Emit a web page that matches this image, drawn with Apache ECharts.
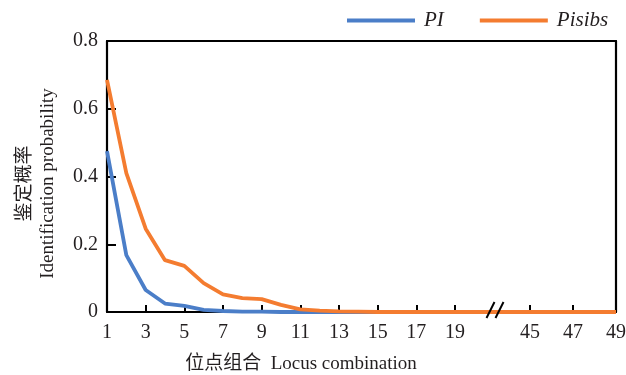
<!DOCTYPE html>
<html>
<head>
<meta charset="utf-8">
<script src="https://cdn.jsdelivr.net/npm/echarts@6/dist/echarts.min.js"></script>
<style>
html,body{margin:0;padding:0;background:#fff;}
#chart{width:626px;height:375px;}
</style>
</head>
<body>
<div id="chart"></div>
<script>
// Locus combination (x) values
const loci = [1,2,3,4,5,6,7,8,9,10,11,12,13,14,15,16,17,18,19,20,21,22,23,24,25,26,27,28,29,30,31,32,33,34,35,36,37,38,39,40,41,42,43,44,45,46,47,48,49];
// PI identification probability
const piValues = [0.475,0.168,0.065,0.025,0.018,0.006,0.003,0.001,0.001,0,0,0,0,0,0,0,0,0,0,0,0,0,0,0,0,0,0,0,0,0,0,0,0,0,0,0,0,0,0,0,0,0,0,0,0,0,0,0,0];
// Pisibs identification probability
const pisibsValues = [0.685,0.41,0.246,0.153,0.136,0.085,0.052,0.041,0.038,0.021,0.008,0.004,0.002,0.001,0,0,0,0,0,0,0,0,0,0,0,0,0,0,0,0,0,0,0,0,0,0,0,0,0,0,0,0,0,0,0,0,0,0,0];
// Tick labels
const leftTicks = [1,3,5,7,9,11,13,15,17,19];
const rightTicks = [45,47,49];
const yTicks = [0,0.2,0.4,0.6,0.8];
const seriesNames = ['PI','Pisibs'];

const FONT = "'Liberation Serif','Noto Sans CJK SC',serif";
const TXT = '#231f20';
const BLUE = '#4b7ec8';
const ORANGE = '#f47c30';

const piData = loci.map((x,i)=>[x, piValues[i]]);
const pisibsData = loci.map((x,i)=>[x, pisibsValues[i]]);

const chart = echarts.init(document.getElementById('chart'), null, {renderer:'canvas'});

const axisLineStyle = {show:true, onZero:false, lineStyle:{color:'#000', width:2.2}};
const lineSeries = (name, data, color, xi, yi, z) => ({
  name, type:'line', data, xAxisIndex:xi, yAxisIndex:yi,
  showSymbol:false, symbol:'none', smooth:false, clip:true, z,
  lineStyle:{color, width:3.8}, itemStyle:{color}, animation:false
});

chart.setOption({
  animation:false,
  backgroundColor:'#fff',
  legend:{
    data:seriesNames, left:347, top:10, padding:0, icon:'rect', itemWidth:68, itemHeight:4, itemGap:36,
    textStyle:{fontFamily:FONT, fontSize:21, fontStyle:'italic', color:TXT, padding:[0,0,0,4]}
  },
  grid:[
    {left:107, top:41, width:388, height:271, outerBoundsMode:'none', containLabel:false},
    {left:495, top:41, width:121, height:271, outerBoundsMode:'none', containLabel:false}
  ],
  xAxis:[
    {gridIndex:0, type:'value', position:'bottom', min:1, max:21.07,
     axisLine:axisLineStyle,
     axisTick:{show:true, inside:true, length:7, customValues:leftTicks, lineStyle:{color:'#000', width:2}},
     axisLabel:{customValues:leftTicks, fontFamily:FONT, fontSize:20, color:TXT, margin:11},
     splitLine:{show:false},
     name:'位点组合  Locus combination', nameLocation:'middle', nameGap:43,
     nameTextStyle:{fontFamily:FONT, fontSize:19, color:TXT}},
    {gridIndex:1, type:'value', position:'bottom', min:43.37, max:49,
     axisLine:axisLineStyle,
     axisTick:{show:true, inside:true, length:7, customValues:rightTicks, lineStyle:{color:'#000', width:2}},
     axisLabel:{customValues:rightTicks, fontFamily:FONT, fontSize:20, color:TXT, margin:11},
     splitLine:{show:false}},
    {gridIndex:0, type:'value', position:'top', min:1, max:21.07,
     axisLine:axisLineStyle, axisTick:{show:false}, axisLabel:{show:false}, splitLine:{show:false}},
    {gridIndex:1, type:'value', position:'top', min:43.37, max:49,
     axisLine:axisLineStyle, axisTick:{show:false}, axisLabel:{show:false}, splitLine:{show:false}}
  ],
  yAxis:[
    {gridIndex:0, type:'value', min:0, max:0.8, position:'left',
     axisLine:axisLineStyle,
     axisTick:{show:true, inside:true, length:9, customValues:yTicks, lineStyle:{color:'#000', width:2}},
     axisLabel:{customValues:yTicks, fontFamily:FONT, fontSize:20, color:TXT, margin:9,
       formatter:v=> v===0 ? '0' : v.toFixed(1)},
     splitLine:{show:false},
     name:'鉴定概率\nIdentification probability', nameLocation:'middle', nameRotate:90, nameGap:47,
     nameTextStyle:{fontFamily:FONT, fontSize:19, color:TXT, lineHeight:23, padding:[0,14,0,0]}},
    {gridIndex:1, type:'value', min:0, max:0.8, position:'right',
     axisLine:axisLineStyle, axisTick:{show:false}, axisLabel:{show:false}, splitLine:{show:false}}
  ],
  series:[
    lineSeries('PI', piData, BLUE, 0, 0, 3),
    lineSeries('Pisibs', pisibsData, ORANGE, 0, 0, 4),
    lineSeries('PI', piData, BLUE, 1, 1, 3),
    lineSeries('Pisibs', pisibsData, ORANGE, 1, 1, 4)
  ],
  graphic:[
    {type:'line', shape:{x1:486.5, y1:318, x2:494.5, y2:302}, style:{stroke:'#000', lineWidth:2}, z:100},
    {type:'line', shape:{x1:495.5, y1:318, x2:503.5, y2:302}, style:{stroke:'#000', lineWidth:2}, z:100}
  ]
});
</script>
</body>
</html>
